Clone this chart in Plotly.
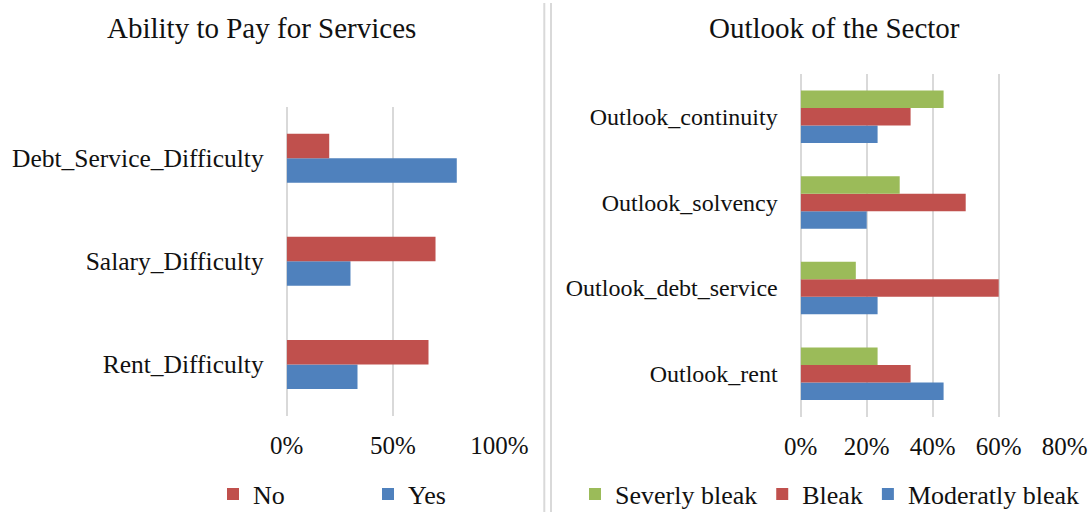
import plotly.graph_objects as go

W, H = 1091, 512

# Ability to pay for services (% of respondents)
pay_categories = ["Debt_Service_Difficulty", "Salary_Difficulty", "Rent_Difficulty"]
pay_no = [20, 70, 66.7]
pay_yes = [80, 30, 33.3]
pay_ticks = [0, 50, 100]

# Outlook of the sector (% of respondents)
outlook_categories = ["Outlook_continuity", "Outlook_solvency",
                      "Outlook_debt_service", "Outlook_rent"]
outlook_severely = [43.3, 30, 16.7, 23.3]
outlook_bleak = [33.3, 50, 60, 33.3]
outlook_moderately = [23.3, 20, 23.3, 43.3]
outlook_ticks = [0, 20, 40, 60, 80]

BLUE = "#4F81BD"
RED = "#C0504D"
GREEN = "#9BBB59"
GRID = "#D9D9D9"
TEXT = "#111111"
FONT = "Liberation Serif"


def fx(p):
    return p / W


def fy(p):
    return 1 - p / H


fig = go.Figure()

# left panel: two bars per category, Yes below No
bw_l = 0.2375
fig.add_trace(go.Bar(y=pay_categories, x=pay_yes, name="Yes", orientation="h",
                     marker_color=BLUE, width=bw_l, offset=-bw_l,
                     xaxis="x", yaxis="y", legend="legend"))
fig.add_trace(go.Bar(y=pay_categories, x=pay_no, name="No", orientation="h",
                     marker_color=RED, width=bw_l, offset=0,
                     xaxis="x", yaxis="y", legend="legend"))

# right panel: three bars per category
bw_r = 0.2045
fig.add_trace(go.Bar(y=outlook_categories, x=outlook_moderately, name="Moderatly bleak",
                     orientation="h", marker_color=BLUE, width=bw_r, offset=-1.5 * bw_r,
                     xaxis="x2", yaxis="y2", legend="legend2"))
fig.add_trace(go.Bar(y=outlook_categories, x=outlook_bleak, name="Bleak",
                     orientation="h", marker_color=RED, width=bw_r, offset=-0.5 * bw_r,
                     xaxis="x2", yaxis="y2", legend="legend2"))
fig.add_trace(go.Bar(y=outlook_categories, x=outlook_severely, name="Severly bleak",
                     orientation="h", marker_color=GREEN, width=bw_r, offset=0.5 * bw_r,
                     xaxis="x2", yaxis="y2", legend="legend2"))
fig.update_traces(marker_line_width=0)

xcommon = dict(showgrid=True, gridcolor=GRID, gridwidth=2,
               zeroline=True, zerolinecolor=GRID, zerolinewidth=2,
               showline=False, ticks="", automargin=False,
               tickfont=dict(family=FONT, size=25, color=TEXT),
               ticklabelstandoff=12, fixedrange=True)
ycommon = dict(type="category", categoryorder="array", showgrid=False,
               zeroline=False, showline=False, ticks="", automargin=False,
               ticklabelstandoff=22, fixedrange=True)

legcommon = dict(orientation="h", traceorder="reversed", bgcolor="rgba(0,0,0,0)",
                 font=dict(family=FONT, size=26, color=TEXT),
                 xanchor="left", yanchor="middle", borderwidth=0)

fig.update_layout(
    template="none",
    width=W, height=H,
    margin=dict(l=0, r=0, t=0, b=0, pad=0, autoexpand=False),
    paper_bgcolor="white", plot_bgcolor="white",
    barmode="overlay",
    font=dict(family=FONT, color=TEXT),
    xaxis=dict(domain=[fx(286.7), fx(499.3)], anchor="y", range=[0, 100],
               tickvals=pay_ticks, ticktext=[f"{v}%" for v in pay_ticks], **xcommon),
    yaxis=dict(domain=[fy(416), fy(106.7)], anchor="x", range=[-0.5, 2.5],
               categoryarray=pay_categories[::-1],
               tickfont=dict(family=FONT, size=25.5, color=TEXT), **ycommon),
    xaxis2=dict(domain=[fx(800.7), fx(1064.7)], anchor="y2", range=[0, 80],
                tickvals=outlook_ticks, ticktext=[f"{v}%" for v in outlook_ticks],
                **xcommon),
    yaxis2=dict(domain=[fy(416.5), fy(74)], anchor="x2", range=[-0.5, 3.5],
                categoryarray=outlook_categories[::-1],
                tickfont=dict(family=FONT, size=24, color=TEXT), **ycommon),
    legend=dict(x=fx(213), y=fy(494), entrywidth=110, **legcommon),
    legend2=dict(x=fx(575), y=fy(494), **legcommon),
    showlegend=True,
)

# panel titles
fig.add_annotation(text="Ability to Pay for Services", x=fx(261), y=fy(28),
                   xref="paper", yref="paper", showarrow=False,
                   xanchor="center", yanchor="middle",
                   font=dict(family=FONT, size=29, color=TEXT))
fig.add_annotation(text="Outlook of the Sector", x=fx(834), y=fy(28),
                   xref="paper", yref="paper", showarrow=False,
                   xanchor="center", yanchor="middle",
                   font=dict(family=FONT, size=29, color=TEXT))

# double divider between the two panels
for xp in (544.3, 551):
    fig.add_shape(type="line", xref="paper", yref="paper",
                  x0=fx(xp), x1=fx(xp), y0=0, y1=fy(3),
                  line=dict(color=GRID, width=2))

fig.write_html("out.html")
